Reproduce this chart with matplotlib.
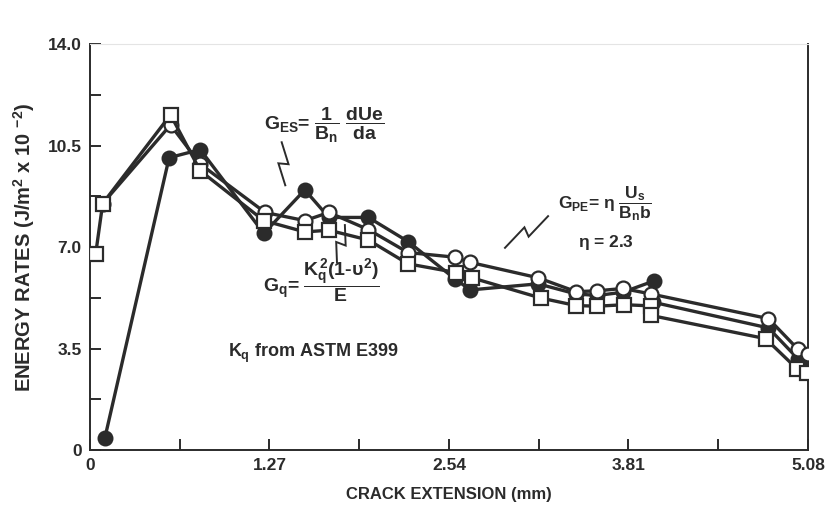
import numpy as np
import matplotlib
matplotlib.use('Agg')
import matplotlib.pyplot as plt

# Values (crack extension in mm, energy rate in J/m^2 x 10^-2)
x_es = [0.106, 0.56, 0.78, 1.23, 1.52, 1.69, 1.97, 2.25, 2.58, 2.69,
        3.17, 3.44, 3.59, 3.77, 3.99, 3.98, 4.80, 5.01, 5.08]
g_es = [0.43, 10.08, 10.36, 7.47, 8.97, 8.02, 8.02, 7.19, 5.91, 5.52,
        5.73, 5.38, 5.33, 5.44, 5.83, 5.10, 4.21, 3.14, 3.03]

x_pe = [0.09, 0.57, 0.78, 1.24, 1.52, 1.69, 1.97, 2.25, 2.58, 2.69,
        3.17, 3.44, 3.59, 3.77, 3.97, 4.80, 5.01, 5.08]
g_pe = [8.50, 11.21, 9.86, 8.19, 7.91, 8.19, 7.60, 6.81, 6.65, 6.47,
        5.94, 5.46, 5.49, 5.57, 5.38, 4.53, 3.47, 3.30]

x_q = [0.04, 0.09, 0.57, 0.78, 1.23, 1.52, 1.69, 1.97, 2.25, 2.59, 2.70,
       3.19, 3.44, 3.59, 3.78, 3.97, 3.97, 4.78, 5.00, 5.07]
g_q = [6.75, 8.50, 11.56, 9.63, 7.91, 7.52, 7.58, 7.24, 6.42, 6.12, 5.94,
       5.24, 4.98, 4.96, 5.01, 4.97, 4.64, 3.84, 2.81, 2.66]

xticks = [0, 0.635, 1.27, 1.905, 2.54, 3.175, 3.81, 4.445, 5.08]
xticklabels = ['0', '', '1.27', '', '2.54', '', '3.81', '', '5.08']
yticks = [0, 1.75, 3.5, 5.25, 7.0, 8.75, 10.5, 12.25, 14.0]
yticklabels = ['0', '', '3.5', '', '7.0', '', '10.5', '', '14.0']

plt.rcParams['font.family'] = ['Liberation Sans', 'DejaVu Sans']
plt.rcParams['font.weight'] = 'bold'
plt.rcParams['mathtext.fontset'] = 'custom'
plt.rcParams['mathtext.rm'] = 'Liberation Sans:bold'
plt.rcParams['mathtext.it'] = 'Liberation Sans:bold'
plt.rcParams['mathtext.bf'] = 'Liberation Sans:bold'

ink = '#2b2b2b'
AX_W, AX_H = 718., 406.  # axes size in pixels


def zigzag(ax, x0, y0, x1, y1, jog=5.):
    """lightning-style leader line, ends given in axes fraction"""
    p0 = np.array([x0 * AX_W, y0 * AX_H])
    p1 = np.array([x1 * AX_W, y1 * AX_H])
    d = p1 - p0
    n = np.array([-d[1], d[0]]) / np.hypot(*d)
    pts = np.array([p0,
                    p0 + 0.52 * d + jog * n,
                    p0 + 0.48 * d - jog * n,
                    p1])
    ax.plot(pts[:, 0] / AX_W, pts[:, 1] / AX_H, color=ink, lw=1.4,
            transform=ax.transAxes, clip_on=False, solid_joinstyle='miter')


fig = plt.figure(figsize=(8.3, 5.07), dpi=100)
ax = fig.add_axes([0.1084, 0.1124, 0.8651, 0.8008])

ax.plot(x_es, g_es, '-o', color=ink, lw=2.4, ms=10, mfc=ink, mec=ink,
        mew=1.5, zorder=3)
ax.plot(x_pe, g_pe, '-o', color=ink, lw=2.4, ms=10, mfc='white', mec=ink,
        mew=1.6, zorder=4)
ax.plot(x_q, g_q, '-s', color=ink, lw=2.4, ms=10.5, mfc='white', mec=ink,
        mew=1.6, zorder=5)

ax.set_xlim(0, 5.08)
ax.set_ylim(0, 14.0)
ax.set_xticks(xticks)
ax.set_xticklabels(xticklabels)
ax.set_yticks(yticks)
ax.set_yticklabels(yticklabels)
ax.tick_params(direction='in', length=8, width=1.4, labelsize=12.5,
               colors=ink, pad=6)
for s in ['left', 'bottom', 'right']:
    ax.spines[s].set_linewidth(1.4)
    ax.spines[s].set_color(ink)
ax.spines['top'].set_color('#e4e4e4')
ax.spines['top'].set_linewidth(0.8)

ax.set_xlabel('CRACK EXTENSION (mm)', fontsize=12, fontweight='bold',
              color=ink, labelpad=10)
ax.set_ylabel(r'ENERGY RATES (J/m$^2$ x 10 $^{-2}$)', fontsize=14.5,
              fontweight='bold', color=ink, labelpad=8)

# annotations
ax.text(0.327, 0.800, r'$G_{ES}$= $\dfrac{1}{B_n}\ \dfrac{dUe}{da}$',
        transform=ax.transAxes, ha='center', va='center', fontsize=14,
        color=ink)
zigzag(ax, 0.267, 0.758, 0.272, 0.652)

ax.text(0.323, 0.418, r'$G_q$= $\dfrac{K_q^2(1\text{-}\upsilon^2)}{E}$',
        transform=ax.transAxes, ha='center', va='center', fontsize=14,
        color=ink)
zigzag(ax, 0.355, 0.554, 0.344, 0.462)

ax.text(0.717, 0.607, r'$G_{PE}$= $\eta\ \dfrac{U_s}{B_n b}$',
        transform=ax.transAxes, ha='center', va='center', fontsize=12.5,
        color=ink)
ax.text(0.718, 0.510, r'$\eta$ = 2.3', transform=ax.transAxes,
        ha='center', va='center', fontsize=12.5, color=ink)
zigzag(ax, 0.638, 0.576, 0.578, 0.498)

ax.text(0.311, 0.239, r'$K_q$ from ASTM E399', transform=ax.transAxes,
        ha='center', va='center', fontsize=13, color=ink)

fig.savefig('out.png', dpi=100)
